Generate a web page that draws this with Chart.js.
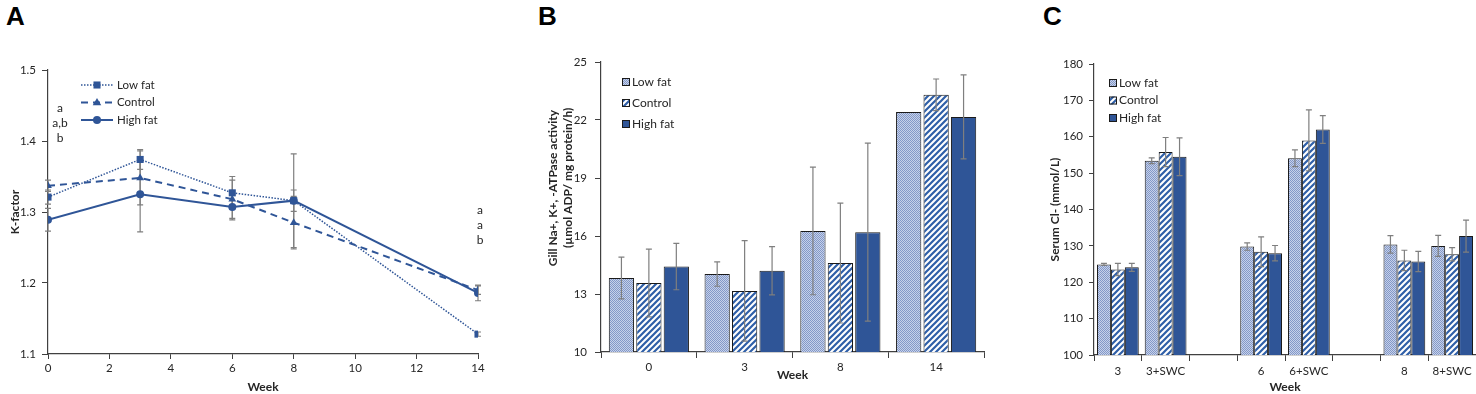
<!DOCTYPE html>
<html>
<head>
<meta charset="utf-8">
<script src="https://cdn.jsdelivr.net/npm/chart.js@4/dist/chart.umd.min.js"></script>
<style>
  html, body { margin: 0; padding: 0; background: #fff; overflow: hidden; }
  body { width: 1476px; height: 394px; position: relative; }
  canvas { position: absolute; top: 0; }
  .tag { position: absolute; top: 1px; font: bold 26px "Liberation Sans", Arial, sans-serif; color: #000; }
</style>
</head>
<body>
<div class="tag" style="left:6px">A</div>
<div class="tag" style="left:538px">B</div>
<div class="tag" style="left:1043px">C</div>
<canvas id="chartA" width="500" height="394" style="left:0px"></canvas>
<canvas id="chartB" width="480" height="394" style="left:520px"></canvas>
<canvas id="chartC" width="446" height="394" style="left:1030px"></canvas>
<script>
// A - K-factor over weeks
const weeksA = [0, 3, 6, 8, 14];
const kLow = [1.321, 1.374, 1.327, 1.316, 1.128];
const kControl = [1.337, 1.348, 1.318, 1.285, 1.190];
const kHigh = [1.289, 1.325, 1.307, 1.316, 1.186];
const kLowErr = [0.010, 0.014, 0.023, 0.066, 0.003];
const kControlErr = [0.008, 0.038, 0.027, 0.037, 0.006];
const kHighErr = [0.016, 0.053, 0.018, 0.015, 0.011];

// B - gill Na+,K+-ATPase
const weeksB = ["0", "3", "8", "14"];
const atpLow = [13.83, 14.03, 16.26, 22.42];
const atpControl = [13.57, 13.16, 14.60, 23.30];
const atpHigh = [14.42, 14.20, 16.20, 22.16];
const atpLowErr = [1.08, 0.63, 3.30, 0];
const atpControlErr = [1.75, 2.60, 3.10, 0.82];
const atpHighErr = [1.20, 1.25, 4.60, 2.17];

// C - serum Cl-
const weeksC = ["3", "3+SWC", "", "6", "6+SWC", "", "8", "8+SWC"];
const clLow = [124.9, 153.4, null, 129.8, 154.1, null, 130.4, 130.0];
const clControl = [123.5, 155.8, null, 128.4, 159.0, null, 126.0, 127.7];
const clHigh = [124.1, 154.5, null, 128.0, 162.0, null, 125.7, 132.7];
const clLowErr = [0.3, 0.8, null, 1.0, 2.3, null, 2.4, 2.9];
const clControlErr = [1.7, 4.0, null, 4.1, 8.4, null, 2.8, 1.8];
const clHighErr = [1.1, 5.2, null, 2.1, 3.8, null, 2.8, 4.4];

const groupNames = ["Low fat", "Control", "High fat"];

const BLUE = "#2f5597";
const AXIS = "#404040";
Chart.defaults.font.family = 'Lato, "Liberation Sans", sans-serif';
Chart.defaults.font.size = 11.5;
Chart.defaults.color = "#262626";

// fill patterns
function checkerPattern() {
  const c = document.createElement("canvas");
  c.width = 2; c.height = 2;
  const g = c.getContext("2d");
  g.fillStyle = "#c6d1e9"; g.fillRect(0, 0, 2, 2);
  g.fillStyle = "#8398c8"; g.fillRect(0, 0, 1, 1); g.fillRect(1, 1, 1, 1);
  return g.createPattern(c, "repeat");
}
function stripePattern() {
  const s = 6;
  const c = document.createElement("canvas");
  c.width = s; c.height = s;
  const g = c.getContext("2d");
  g.fillStyle = "#fff"; g.fillRect(0, 0, s, s);
  g.strokeStyle = "#2f5fa8"; g.lineWidth = 2.2;
  g.beginPath();
  g.moveTo(0, s); g.lineTo(s, 0);
  g.moveTo(-1, 1); g.lineTo(1, -1);
  g.moveTo(s - 1, s + 1); g.lineTo(s + 1, s - 1);
  g.stroke();
  return g.createPattern(c, "repeat");
}
const lowFill = checkerPattern();
const ctlFill = stripePattern();

// error bars from the y scale
function paintErrors(chart, opts) {
  const ctx = chart.ctx;
  const ys = chart.scales.y;
  ctx.save();
  ctx.strokeStyle = "#7f7f7f";
  ctx.lineWidth = 1.2;
  opts.errs.forEach((errs, di) => {
    const meta = chart.getDatasetMeta(di);
    const vals = chart.data.datasets[di].data;
    meta.data.forEach((el, i) => {
      const e = errs[i];
      const v = typeof vals[i] === "object" && vals[i] !== null ? vals[i].y : vals[i];
      if (e == null || v == null || !e) return;
      const x = el.x;
      const top = ys.getPixelForValue(v + e);
      const bot = ys.getPixelForValue(v - e);
      ctx.beginPath();
      ctx.moveTo(x, top); ctx.lineTo(x, bot);
      ctx.moveTo(x - opts.cap, top); ctx.lineTo(x + opts.cap, top);
      ctx.moveTo(x - opts.cap, bot); ctx.lineTo(x + opts.cap, bot);
      ctx.stroke();
    });
  });
  ctx.restore();
}
const errorBars = {
  id: "errorBars",
  beforeDatasetsDraw(chart, args, opts) { if (opts.behind) paintErrors(chart, opts); },
  afterDatasetsDraw(chart, args, opts) { if (!opts.behind) paintErrors(chart, opts); }
};

function marker(ctx, style, x, y, r) {
  ctx.beginPath();
  if (style === "rect") {
    const s = r * Math.SQRT1_2;
    ctx.rect(x - s, y - s, 2 * s, 2 * s);
  } else if (style === "triangle") {
    ctx.moveTo(x, y - r);
    ctx.lineTo(x + r * 0.95, y + r * 0.6);
    ctx.lineTo(x - r * 0.95, y + r * 0.6);
    ctx.closePath();
  } else {
    ctx.arc(x, y, r, 0, Math.PI * 2);
  }
  ctx.fill();
}

// legend placed inside the plot
const insideLegend = {
  id: "insideLegend",
  afterDraw(chart, args, opts) {
    const ctx = chart.ctx;
    ctx.save();
    ctx.font = opts.size + 'px Lato, "Liberation Sans", sans-serif';
    ctx.textBaseline = "middle";
    ctx.fillStyle = "#262626";
    chart.data.datasets.forEach((ds, i) => {
      const y = opts.y + i * opts.gap;
      if (opts.kind === "line") {
        ctx.strokeStyle = ds.borderColor;
        ctx.lineWidth = ds.borderWidth;
        ctx.setLineDash(ds.borderDash || []);
        ctx.beginPath();
        ctx.moveTo(opts.x, y); ctx.lineTo(opts.x + 32, y);
        ctx.stroke();
        ctx.setLineDash([]);
        ctx.fillStyle = ds.pointBackgroundColor;
        marker(ctx, ds.pointStyle, opts.x + 16, y, ds.pointRadius);
        ctx.fillStyle = "#262626";
        ctx.fillText(ds.label, opts.x + 36, y);
      } else {
        const b = opts.box;
        ctx.fillStyle = ds.backgroundColor;
        ctx.fillRect(opts.x, y - b / 2, b, b);
        ctx.strokeStyle = "#1a1a1a";
        ctx.lineWidth = 1;
        ctx.strokeRect(opts.x + 0.5, y - b / 2 + 0.5, b - 1, b - 1);
        ctx.fillStyle = "#262626";
        ctx.fillText(ds.label, opts.x + b + 2, y);
      }
    });
    ctx.restore();
  }
};

// letters marking significance
const sigLetters = {
  id: "sigLetters",
  afterDraw(chart, args, opts) {
    const ctx = chart.ctx;
    ctx.save();
    ctx.font = '12px Lato, "Liberation Sans", sans-serif';
    ctx.fillStyle = "#262626";
    ctx.textAlign = "center";
    ctx.textBaseline = "middle";
    opts.items.forEach((it) => {
      it.text.forEach((t, k) => ctx.fillText(t, it.x, it.y + k * 15));
    });
    ctx.restore();
  }
};

const boldTitle = { weight: "bold", size: 12 };

// ---- A
new Chart(document.getElementById("chartA"), {
  type: "line",
  data: {
    datasets: [
      {
        label: groupNames[0],
        data: weeksA.map((w, i) => ({ x: w, y: kLow[i] })),
        borderColor: BLUE, borderWidth: 1.5, borderDash: [1.5, 1.5],
        pointStyle: "rect", pointRadius: 5, pointBackgroundColor: BLUE, pointBorderWidth: 0,
      },
      {
        label: groupNames[1],
        data: weeksA.map((w, i) => ({ x: w, y: kControl[i] })),
        borderColor: BLUE, borderWidth: 2, borderDash: [7, 5],
        pointStyle: "triangle", pointRadius: 4.5, pointBackgroundColor: BLUE, pointBorderWidth: 0,
      },
      {
        label: groupNames[2],
        data: weeksA.map((w, i) => ({ x: w, y: kHigh[i] })),
        borderColor: BLUE, borderWidth: 2,
        pointStyle: "circle", pointRadius: 4, pointBackgroundColor: BLUE, pointBorderWidth: 0,
      },
    ],
  },
  options: {
    responsive: false, animation: false, devicePixelRatio: 1,
    layout: { padding: { top: 70, right: 22, left: 0, bottom: 0 } },
    scales: {
      x: {
        type: "linear", min: 0, max: 14,
        ticks: { stepSize: 2, padding: 2 },
        grid: { drawOnChartArea: false, tickLength: 5, color: AXIS },
        border: { color: AXIS, width: 1.2 },
        title: { display: true, text: "Week", font: boldTitle, padding: 0 },
        afterFit(s) { s.height = 40; },
      },
      y: {
        min: 1.1, max: 1.5,
        ticks: { stepSize: 0.1, padding: 6, callback: (v) => v.toFixed(1) },
        grid: { drawOnChartArea: false, tickLength: 6, color: AXIS },
        border: { color: AXIS, width: 1.2 },
        title: { display: true, text: "K-factor", font: boldTitle, padding: { top: 8 } },
        afterFit(s) { s.width = 48; },
      },
    },
    plugins: {
      legend: { display: false },
      tooltip: { enabled: false },
      errorBars: { behind: true, cap: 3, errs: [kLowErr, kControlErr, kHighErr] },
      insideLegend: { kind: "line", x: 81, y: 85, gap: 17.5, size: 11.5 },
      sigLetters: { items: [
        { x: 60, y: 108, text: ["a", "a,b", "b"] },
        { x: 480, y: 210, text: ["a", "a", "b"] },
      ] },
    },
  },
  plugins: [errorBars, insideLegend, sigLetters],
});

// ---- B
new Chart(document.getElementById("chartB"), {
  type: "bar",
  data: {
    labels: weeksB,
    datasets: [
      { label: groupNames[0], data: atpLow, backgroundColor: lowFill },
      { label: groupNames[1], data: atpControl, backgroundColor: ctlFill },
      { label: groupNames[2], data: atpHigh, backgroundColor: BLUE },
    ],
  },
  options: {
    responsive: false, animation: false, devicePixelRatio: 1,
    layout: { padding: { top: 62, right: 16, left: 0, bottom: 0 } },
    datasets: { bar: { categoryPercentage: 0.86, barPercentage: 0.92, borderColor: "#1a1a1a", borderWidth: 1 } },
    scales: {
      x: {
        ticks: { padding: 2 },
        grid: { drawOnChartArea: false, tickLength: 6, color: AXIS },
        border: { color: AXIS, width: 1.2 },
        title: { display: true, text: "Week", font: boldTitle, padding: { bottom: 12 } },
        afterFit(s) { s.height = 42; },
      },
      y: {
        min: 10, max: 25,
        ticks: { stepSize: 3, padding: 8 },
        grid: { drawOnChartArea: false, tickLength: 6, color: AXIS },
        border: { color: AXIS, width: 1.2 },
        title: {
          display: true,
          text: [" ".repeat(13) + "Gill Na+, K+, -ATPase activity", " ".repeat(20) + "(µmol ADP/ mg protein/h)"],
          font: { weight: "bold", size: 12, lineHeight: 1.25 },
          padding: { top: 25.5 },
        },
        afterFit(s) { s.width = 81; },
      },
    },
    plugins: {
      legend: { display: false },
      tooltip: { enabled: false },
      errorBars: { behind: false, cap: 3, errs: [atpLowErr, atpControlErr, atpHighErr] },
      insideLegend: { kind: "box", x: 102, y: 82, gap: 21, box: 8, size: 12 },
    },
  },
  plugins: [errorBars, insideLegend],
});

// ---- C
new Chart(document.getElementById("chartC"), {
  type: "bar",
  data: {
    labels: weeksC,
    datasets: [
      { label: groupNames[0], data: clLow, backgroundColor: lowFill },
      { label: groupNames[1], data: clControl, backgroundColor: ctlFill },
      { label: groupNames[2], data: clHigh, backgroundColor: BLUE },
    ],
  },
  options: {
    responsive: false, animation: false, devicePixelRatio: 1,
    layout: { padding: { top: 64, right: 0, left: 0, bottom: 0 } },
    datasets: { bar: { categoryPercentage: 0.875, barPercentage: 1.0, borderColor: "#1a1a1a", borderWidth: 1 } },
    scales: {
      x: {
        ticks: { padding: 3, autoSkip: false, maxRotation: 0 },
        grid: { drawOnChartArea: false, tickLength: 6, color: AXIS },
        border: { color: AXIS, width: 1.2 },
        title: { display: true, text: "Week", font: boldTitle, padding: 0 },
        afterFit(s) { s.height = 39; },
      },
      y: {
        min: 100, max: 180,
        ticks: { stepSize: 10, padding: 6 },
        grid: { drawOnChartArea: false, tickLength: 5, color: AXIS },
        border: { color: AXIS, width: 1.2 },
        title: { display: true, text: "Serum Cl- (mmol/L)", font: { weight: "bold", size: 12, lineHeight: 1.25 }, padding: { top: 17.5 } },
        afterFit(s) { s.width = 64; },
      },
    },
    plugins: {
      legend: { display: false },
      tooltip: { enabled: false },
      errorBars: { behind: false, cap: 3, errs: [clLowErr, clControlErr, clHighErr] },
      insideLegend: { kind: "box", x: 79, y: 83, gap: 17.5, box: 8, size: 12 },
    },
  },
  plugins: [errorBars, insideLegend],
});
</script>
</body>
</html>
